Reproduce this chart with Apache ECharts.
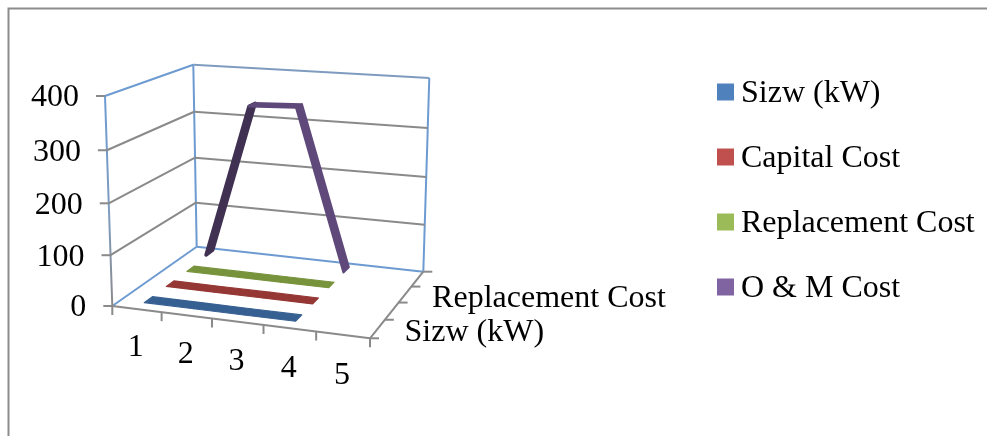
<!DOCTYPE html>
<html><head><meta charset="utf-8">
<style>html,body{margin:0;padding:0;background:#fff}#c{width:987px;height:436px}</style>
<script src="https://cdn.jsdelivr.net/npm/echarts@6/dist/echarts.min.js"></script>
</head><body><div id="c"></div>
<script>
const categories = ['1','2','3','4','5'];
const yTicks = [0,100,200,300,400];
const seriesNames = ['Sizw (kW)','Capital Cost','Replacement Cost','O & M Cost'];
const depthLabels = ['Sizw (kW)','','Replacement Cost',''];
const sizw = [2,2,2,2];
const capitalCost = [2,2,2,2];
const replacementCost = [2,2,2,2];
const omCost = [7,333,337,3];
const seriesValues = [sizw,capitalCost,replacementCost,omCost];
const legendColors = ['#4F81BD','#C0504D','#9BBB59','#8064A2'];
const riseColors = ['#376092','#953735','#77933C','#403152'];
const fallColors = ['#376092','#953735','#77933C','#5F497A'];

const W=987,H=436,FONT='"Liberation Serif","Times New Roman",serif',FS=32;
// box corners: floor / top, ordered front-left, front-right, back-right, back-left
const floor=[[112.3,306],[370,338.3],[423.3,271.7],[196.7,246.7]];
const top_=[[105,96],[378,115],[429.3,78],[193.3,64.7]];
function homography(q){
  const [[x0,y0],[x1,y1],[x2,y2],[x3,y3]]=q;
  const sx=x0-x1+x2-x3,sy=y0-y1+y2-y3,dx1=x1-x2,dx2=x3-x2,dy1=y1-y2,dy2=y3-y2;
  const den=dx1*dy2-dx2*dy1;
  const g=(sx*dy2-dx2*sy)/den,h=(dx1*sy-sx*dy1)/den;
  const a=x1-x0+g*x1,b=x3-x0+h*x3,d=y1-y0+g*y1,e=y3-y0+h*y3;
  return (u,v)=>{const w=g*u+h*v+1;return [(a*u+b*v+x0)/w,(d*u+e*v+y0)/w];};
}
const hFloor=homography(floor),hTop=homography(top_);
function project(u,d,h){
  const p=hFloor(u,d),q=hTop(u,d);
  const t=h/(1+(1-h)*0.045); // vertical foreshortening
  return [p[0]+(q[0]-p[0])*t,p[1]+(q[1]-p[1])*t];
}
function norm(api,i,v){const c=api.coord([i,v]);return [c[0]/W,1-c[1]/H];}
const line=(a,b,color,width)=>({type:'line',shape:{x1:a[0],y1:a[1],x2:b[0],y2:b[1]},style:{stroke:color,lineWidth:width||2}});
const text=(p,s,align)=>({type:'text',x:p[0],y:p[1],style:{text:s,font:FS+'px '+FONT,fill:'#000',align:align,verticalAlign:'middle'}});

function renderFrame(params,api){
  const c=[];const GRAY='#8a8a8a',BLUE='#6d9bd1';
  const n=categories.length;
  c.push(line(project(0,1,0),project(0,1,1),BLUE));
  c.push(line(project(1,1,0),project(1,1,1),BLUE));
  c.push(line(project(0,0,1),project(0,1,1),BLUE));
  c.push(line(project(0,1,1),project(1,1,1),'#7f9cc0'));
  c.push(line(project(0,0,0),project(0,1,0),BLUE));
  c.push(line(project(0,1,0),project(1,1,0),BLUE));
  const fl=project(0,0,0),tl=project(0,0,1);
  c.push(line(fl,tl,new echarts.graphic.LinearGradient(0,0,0,1,[{offset:0,color:BLUE},{offset:.55,color:'#7f9cc0'},{offset:1,color:GRAY}])));
  yTicks.forEach(t=>{
    const h=norm(api,0,t)[1];
    const a=project(0,0,h);
    if(t>0&&t<400){
      c.push(line(a,project(0,1,h),GRAY));
      c.push(line(project(0,1,h),project(1,1,h),GRAY));
    }
    c.push(line([a[0]-9,a[1]],a,GRAY));
    c.push(text([a[0]-26,a[1]+2],String(t),'right'));
  });
  c.push(line(project(0,0,0),project(1,0,0),GRAY));
  c.push(line(project(1,0,0),project(1,1,0),GRAY));
  for(let i=0;i<=n;i++){
    const a=project(i/n,0,0);
    c.push(line(a,[a[0],a[1]+9],GRAY));
  }
  categories.forEach((s,i)=>{
    const a=project((i+.5)/n,0,0);
    c.push(text([a[0]-1,a[1]+39+i*.3],s,'center'));
  });
  depthLabels.forEach((s,i)=>{
    const a=project(1,i/depthLabels.length,0);
    c.push(line(a,[a[0]+9,a[1]],GRAY));
    if(s){const m=project(1,(i+.5)/depthLabels.length,0);c.push(text([m[0]+27,m[1]+4],s,'left'));}
  });
  const e=project(1,1,0);c.push(line(e,[e[0]+9,e[1]],GRAY));
  return {type:'group',children:c};
}
function ribbon(si){
  const d=(si+.5)/seriesNames.length,w=.045;
  const thick=si===seriesNames.length-1;
  return function(params,api){
    const i=api.value(0),v0=api.value(1),v1=api.value(2);
    if(isNaN(v1))return null;
    const a=norm(api,i,v0),b=norm(api,i+1,v1);
    const rising=v1-v0>20;
    const col=rising?riseColors[si]:fallColors[si];
    return {type:'polygon',shape:{points:[project(a[0],d-w,a[1]),project(b[0],d-w,b[1]),project(b[0],d+w,b[1]),project(a[0],d+w,a[1])]},
      style:{fill:col,stroke:col,lineJoin:'round',lineWidth:thick?(rising?3.5:2.4):1.1}};
  };
}
const series=[{type:'custom',silent:true,z:1,data:[[0]],renderItem:renderFrame,clip:false,tooltip:{show:false}}];
seriesValues.forEach((vals,si)=>{
  series.push({type:'custom',name:seriesNames[si],z:10-si,clip:false,renderItem:ribbon(si),
    itemStyle:{color:legendColors[si]},
    encode:{x:0,y:1},
    data:vals.map((v,i)=>[i,v,i+1<vals.length?vals[i+1]:null])});
});
const chart=echarts.init(document.getElementById('c'),null,{renderer:'canvas'});
chart.setOption({
  animation:false,
  backgroundColor:'#fff',
  grid:{left:0,right:0,top:0,bottom:0,containLabel:false},
  xAxis:{type:'category',data:categories,show:false},
  yAxis:{type:'value',min:0,max:400,interval:100,show:false},
  legend:{orient:'vertical',left:712,top:73,itemWidth:17,itemHeight:21,itemGap:33,icon:'path://M0 0H17V17H0ZM0 21L0 21',selectedMode:false,
    data:seriesNames,textStyle:{fontFamily:FONT,fontSize:FS,color:'#000',padding:[0,0,0,2]}},
  graphic:[{type:'polyline',silent:true,shape:{points:[[8.5,436],[8.5,8.5],[987,8.5]]},style:{stroke:'#8c8c8c',lineWidth:2,fill:null}}],
  series:series
});
</script></body></html>
